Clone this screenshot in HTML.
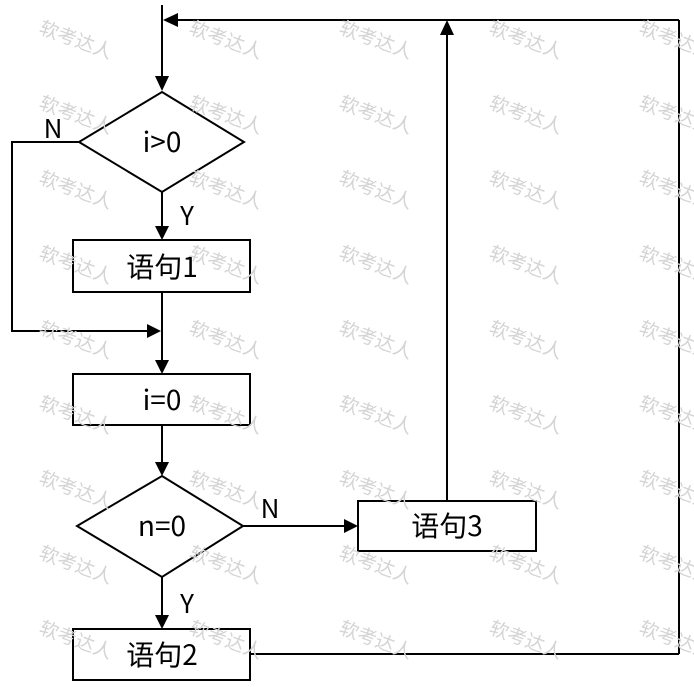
<!DOCTYPE html>
<html><head><meta charset="utf-8"><style>
html,body{margin:0;padding:0;background:#fff;}
svg{display:block;}
.wm{font-family:"Noto Sans CJK SC",sans-serif;font-size:19px;fill:#d4d4d4;}
.t{font-family:"Noto Sans CJK SC","Liberation Sans",sans-serif;font-size:28px;fill:#000;}
.l{font-family:"Noto Sans CJK SC","Liberation Sans",sans-serif;font-size:26px;fill:#000;}
</style></head><body>
<svg width="694" height="687" viewBox="0 0 694 687" xmlns="http://www.w3.org/2000/svg">
<g stroke="#000" stroke-width="2" fill="none">
<line x1="162" y1="5" x2="162" y2="80"/>
<line x1="178" y1="20" x2="679" y2="20"/>
<line x1="679" y1="20" x2="679" y2="654"/>
<line x1="250" y1="654" x2="679" y2="654"/>
<polygon points="162,92 244,142 162,192 79,142" fill="#fff"/>
<polyline points="79,142 12,142 12,331 148,331"/>
<line x1="162" y1="192" x2="162" y2="228"/>
<rect x="73" y="240" width="177" height="52" fill="#fff"/>
<line x1="162" y1="292" x2="162" y2="362"/>
<rect x="73" y="374" width="177" height="51" fill="#fff"/>
<line x1="162" y1="425" x2="162" y2="464"/>
<polygon points="162,476 243,526 162,577 77,526" fill="#fff"/>
<line x1="243" y1="526" x2="346" y2="526"/>
<rect x="358" y="501" width="178" height="50" fill="#fff"/>
<line x1="447" y1="501" x2="447" y2="34"/>
<line x1="162" y1="577" x2="162" y2="617"/>
<rect x="73" y="629" width="177" height="51" fill="#fff"/>
</g>
<g fill="#000">
<polygon points="155,76 169,76 162,91"/>
<polygon points="178,13 178,27 163,20"/>
<polygon points="155,226 169,226 162,240"/>
<polygon points="147,324 147,338 161,331"/>
<polygon points="155,360 169,360 162,374"/>
<polygon points="155,462 169,462 162,476"/>
<polygon points="344,519 344,533 358,526"/>
<polygon points="440,35 454,35 447,20"/>
<polygon points="155,615 169,615 162,629"/>
</g>
<g class="t">
<text x="162" y="152" text-anchor="middle">i&gt;0</text>
<text x="162" y="277" text-anchor="middle">语句1</text>
<text x="162" y="410" text-anchor="middle">i=0</text>
<text x="162" y="536" text-anchor="middle">n=0</text>
<text x="447" y="536" text-anchor="middle">语句3</text>
<text x="162" y="665" text-anchor="middle">语句2</text>
</g>
<g class="l">
<text x="53" y="138" text-anchor="middle">N</text>
<text x="187" y="225" text-anchor="middle">Y</text>
<text x="270" y="518" text-anchor="middle">N</text>
<text x="187" y="613" text-anchor="middle">Y</text>
</g>
<g class="wm">
<g id="r">
<text transform="translate(38,33) rotate(20)">软考达人</text>
<text transform="translate(188,33) rotate(20)">软考达人</text>
<text transform="translate(338,33) rotate(20)">软考达人</text>
<text transform="translate(488,33) rotate(20)">软考达人</text>
<text transform="translate(638,33) rotate(20)">软考达人</text>
</g>
<use href="#r" y="75"/><use href="#r" y="150"/><use href="#r" y="225"/><use href="#r" y="300"/>
<use href="#r" y="375"/><use href="#r" y="450"/><use href="#r" y="525"/><use href="#r" y="600"/>
</g>
</svg>
</body></html>
